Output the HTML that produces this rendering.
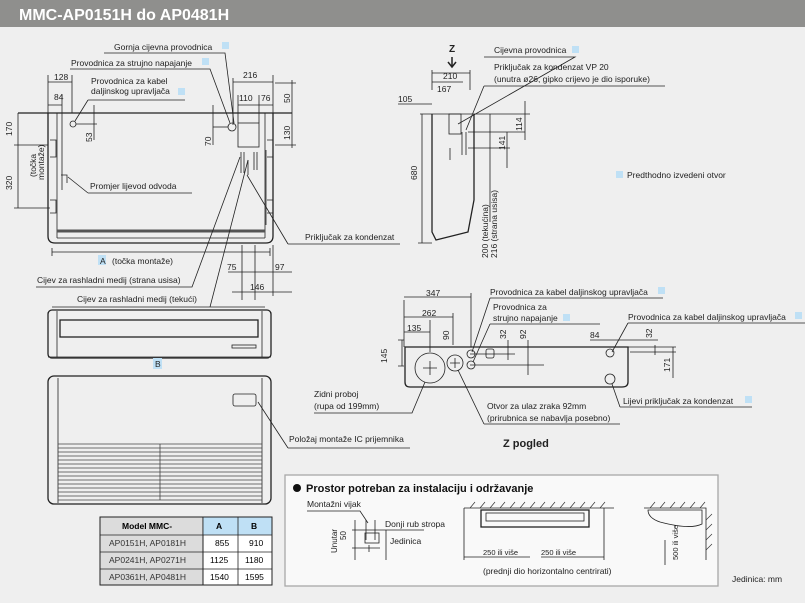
<!DOCTYPE html>
<html><head><meta charset="utf-8"><style>
body{margin:0;background:#efefef;}
svg{display:block;font-family:"Liberation Sans",sans-serif;}
.t{font-size:8.5px;fill:#222;}
.l{stroke:#222;stroke-width:0.8;fill:none;}
.b{stroke:#222;stroke-width:1.3;fill:none;}
.s{fill:#bfe0f5;}
</style></head><body>
<svg width="805" height="603" viewBox="0 0 805 603" xmlns="http://www.w3.org/2000/svg">
<rect x="0" y="0" width="805" height="603" fill="#efefef"/>
<rect x="0" y="0" width="805" height="27" fill="#8f8f8d"/>
<text x="19" y="20" font-size="16" font-weight="bold" fill="#fff">MMC-AP0151H do AP0481H</text>

<!-- TOP-LEFT unit view -->
<g>
<line class="l" x1="275" y1="83" x2="296" y2="83"/>
<line class="b" x1="18" y1="113" x2="292" y2="113"/>
<path class="b" d="M48 113 V236 Q48 243 55 243 H266 Q273 243 273 236 V113"/>
<line class="l" x1="57" y1="113" x2="57" y2="238"/>
<line class="l" x1="265" y1="113" x2="265" y2="238"/>
<line x1="57" y1="231" x2="265" y2="231" stroke="#555" stroke-width="3"/>
<line class="l" x1="57" y1="238" x2="265" y2="238"/>
<path class="l" d="M50 140 h6 v17 h-6 M50 200 h6 v13 h-6 M267 140 h6 v17 h-6 M267 200 h6 v13 h-6 M62 113 V190 M266 150 V225"/>
<circle class="l" cx="73" cy="124" r="3"/>
<circle class="l" cx="232" cy="127" r="4"/>
<rect class="l" x="238" y="123" width="21" height="24"/>
<path class="l" d="M241 152 v21 M244 152 v21 M254 152 v18 M257 152 v18 M248 160 v15"/>
<path class="l" d="M61 175 h6 v8"/>
<!-- dims -->
<path class="l" d="M48 75 V113 M62 95 V113 M72 75 V113 M48 82 H72 M48 105 H62"/>
<text class="t" x="54" y="80">128</text><text class="t" x="54" y="100">84</text>
<path class="l" d="M18 113 V208 M14 145 H48 M14 208 H50"/>
<text class="t" x="12" y="136" transform="rotate(-90 12 136)">170</text>
<text class="t" x="12" y="190" transform="rotate(-90 12 190)">320</text>
<text class="t" x="36" y="177" transform="rotate(-90 36 177)">(točka</text>
<text class="t" x="44" y="180" transform="rotate(-90 44 180)">montaže)</text>
<line class="l" x1="94" y1="105" x2="94" y2="140"/><line class="l" x1="76" y1="124" x2="97" y2="124"/>
<text class="t" x="92" y="142" transform="rotate(-90 92 142)">53</text>
<line class="l" x1="213" y1="105" x2="213" y2="145"/><line class="l" x1="213" y1="127" x2="228" y2="127"/>
<text class="t" x="211" y="146" transform="rotate(-90 211 146)">70</text>
<path class="l" d="M233 78 V125 M273 75 V113 M233 82 H273 M259 95 V123 M238 95 V123 M238 105 H273"/>
<text class="t" x="243" y="78">216</text>
<text class="t" x="239" y="101">110</text><text class="t" x="261" y="101">76</text>
<path class="l" d="M292 80 V148 M275 145 H296"/>
<text class="t" x="290" y="103" transform="rotate(-90 290 103)">50</text>
<text class="t" x="290" y="140" transform="rotate(-90 290 140)">130</text>
<line class="l" x1="52" y1="252" x2="270" y2="252"/>
<path class="l" d="M52 248 V256 M270 248 V256"/>
<rect class="s" x="98" y="255" width="8" height="10"/>
<text class="t" x="100" y="264">A</text><text class="t" x="112" y="264">(točka montaže)</text>
<path class="l" d="M228 272 H292 M242 245 V300 M255 245 V300 M273 245 V296 M232 292 H292"/>
<text class="t" x="227" y="270">75</text><text class="t" x="275" y="270">97</text><text class="t" x="250" y="290">146</text>
<!-- leaders -->
<text class="t" x="114" y="50">Gornja cijevna provodnica</text><rect class="s" x="222" y="42" width="7" height="7"/>
<path class="l" d="M104 53 H225 L234 123"/>
<text class="t" x="71" y="66">Provodnica za strujno napajanje</text><rect class="s" x="202" y="58" width="7" height="7"/>
<path class="l" d="M70 69 H210 L230 123"/>
<text class="t" x="91" y="84">Provodnica za kabel</text>
<text class="t" x="91" y="94">daljinskog upravljača</text><rect class="s" x="178" y="88" width="7" height="7"/>
<path class="l" d="M88 100 H185 M88 100 L75 121"/>
<text class="t" x="90" y="189">Promjer lijevod odvoda</text>
<path class="l" d="M88 193 H192 M88 193 L68 177"/>
<text class="t" x="305" y="240">Priključak za kondenzat</text>
<path class="l" d="M288 244 H400 M288 244 L247 175"/>
<text class="t" x="37" y="283">Cijev za rashladni medij (strana usisa)</text>
<path class="l" d="M36 287 H192 L240 157"/>
<text class="t" x="77" y="302">Cijev za rashladni medij (tekući)</text>
<path class="l" d="M52 307 H265 M210 307 L248 160"/>
</g>

<!-- side view -->
<g>
<line class="l" x1="420" y1="114" x2="530" y2="114"/>
<path class="b" d="M432 114 V232 L436 240 L468 232 L474 200 V114"/>
<rect class="l" x="449" y="114" width="12" height="20"/>
<path class="l" d="M450 148 V160 M462 132 V155 M466 132 V155"/>
<text x="449" y="52" font-size="10" font-weight="bold" fill="#222">Z</text>
<path d="M452 57 V66 M448 62 L452 67 L456 62" stroke="#222" stroke-width="1.5" fill="none"/>
<path class="l" d="M432 73 H470 M432 70 V90 M470 70 V90 M432 82 H463"/>
<text class="t" x="443" y="79">210</text><text class="t" x="437" y="92">167</text>
<path class="l" d="M398 104 H432"/><text class="t" x="398" y="102">105</text>
<path class="l" d="M422 114 V243 M418 243 H432"/>
<text class="t" x="417" y="180" transform="rotate(-90 417 180)">680</text>
<path class="l" d="M490 114 V222 M507 132 V168 M525 101 V140 M468 132 H525 M468 148 H510"/>
<text class="t" x="505" y="150" transform="rotate(-90 505 150)">141</text>
<text class="t" x="522" y="131" transform="rotate(-90 522 131)">114</text>
<text class="t" x="488" y="258" transform="rotate(-90 488 258)">200 (tekućina)</text>
<text class="t" x="497" y="258" transform="rotate(-90 497 258)">216 (strana usisa)</text>
<text class="t" x="494" y="53">Cijevna provodnica</text><rect class="s" x="572" y="46" width="7" height="7"/>
<path class="l" d="M484 57 H575 L458 124"/>
<text class="t" x="494" y="70">Priključak za kondenzat VP 20</text>
<text class="t" x="494" y="82">(unutra  ø26, gipko crijevo je dio isporuke)</text>
<path class="l" d="M484 86 H665 M484 86 L466 130"/>
<rect class="s" x="616" y="171" width="7" height="7"/>
<text class="t" x="627" y="178">Predthodno izvedeni otvor</text>
</g>

<!-- front view -->
<g>
<rect class="b" x="48" y="310" width="223" height="48" rx="4"/>
<line class="l" x1="57" y1="311" x2="57" y2="357"/><line class="l" x1="262" y1="311" x2="262" y2="357"/>
<rect class="b" x="60" y="320" width="198" height="17"/>
<rect class="l" x="232" y="345" width="24" height="3"/>
<line class="l" x1="48" y1="357" x2="271" y2="357"/>
<rect class="s" x="153" y="358" width="9" height="11"/><text class="t" x="155" y="367">B</text>
<rect class="b" x="48" y="376" width="223" height="128" rx="6"/>
<line class="l" x1="58" y1="378" x2="58" y2="503"/><line class="l" x1="262" y1="378" x2="262" y2="503"/>
<rect class="l" x="233" y="394" width="23" height="12" rx="2"/>
<g stroke="#444" stroke-width="0.8">
<line x1="58" y1="444" x2="262" y2="444"/><line x1="58" y1="448" x2="262" y2="448"/><line x1="58" y1="452" x2="262" y2="452"/><line x1="58" y1="456" x2="262" y2="456"/><line x1="58" y1="460" x2="262" y2="460"/><line x1="58" y1="464" x2="262" y2="464"/><line x1="58" y1="468" x2="262" y2="468"/><line x1="58" y1="472" x2="262" y2="472"/><line x1="58" y1="476" x2="262" y2="476"/><line x1="58" y1="480" x2="262" y2="480"/><line x1="58" y1="484" x2="262" y2="484"/><line x1="58" y1="488" x2="262" y2="488"/><line x1="58" y1="492" x2="262" y2="492"/><line x1="58" y1="496" x2="262" y2="496"/><line x1="58" y1="500" x2="262" y2="500"/>
<line x1="160" y1="444" x2="160" y2="500"/></g>
<text class="t" x="289" y="442">Položaj montaže IC prijemnika</text>
<path class="l" d="M288 448 H410 M288 448 L258 402"/>
</g>

<!-- table -->
<g font-size="8.5">
<rect x="100" y="517" width="103" height="68" fill="#dcdcdc" stroke="#222"/>
<rect x="203" y="517" width="69" height="68" fill="#fff" stroke="#222"/>
<rect x="203" y="517" width="69" height="18" fill="#bfe0f5"/>
<path class="l" d="M100 535 H272 M100 552 H272 M100 569 H272 M203 517 V585 M238 517 V585"/>
<rect x="100" y="517" width="172" height="68" fill="none" stroke="#222"/>
<text x="122" y="529" font-weight="bold">Model   MMC-</text>
<text x="216" y="529" font-weight="bold">A</text><text x="251" y="529" font-weight="bold">B</text>
<text x="109" y="546" fill="#333">AP0151H, AP0181H</text><text x="215" y="546">855</text><text x="249" y="546">910</text>
<text x="109" y="563" fill="#333">AP0241H, AP0271H</text><text x="210" y="563">1125</text><text x="245" y="563">1180</text>
<text x="109" y="580" fill="#333">AP0361H, AP0481H</text><text x="210" y="580">1540</text><text x="245" y="580">1595</text>
</g>

<!-- Z view -->
<g>
<path class="b" d="M405 347 H628 V382 Q628 387 622 387 H410 Q405 387 405 382 Z"/>
<circle class="l" cx="430" cy="368" r="15"/><path class="l" d="M423 368 h14 M430 361 v14"/>
<circle class="l" cx="455" cy="363" r="8"/><path class="l" d="M450 363 h10 M455 358 v10"/>
<circle class="l" cx="471" cy="354" r="4"/><circle class="l" cx="471" cy="365" r="4"/>
<rect class="l" x="486" y="349" width="8" height="9" rx="2"/>
<circle class="l" cx="610" cy="353" r="4"/><circle class="l" cx="610" cy="379" r="5"/>
<path class="l" d="M404 297 H471 M404 317 H453 M404 332 H430 M404 300 V347 M471 293 V347 M453 313 V345 M430 320 V352"/>
<text class="t" x="426" y="296">347</text><text class="t" x="422" y="316">262</text><text class="t" x="407" y="331">135</text>
<text class="t" x="449" y="340" transform="rotate(-90 449 340)">90</text>
<path class="l" d="M398 340 H404 M398 366 H404 M402 340 V366"/>
<text class="t" x="387" y="363" transform="rotate(-90 387 363)">145</text>
<path class="l" d="M470 354 H515 M470 365 H544 M508 340 V360 M528 340 V375"/>
<text class="t" x="506" y="339" transform="rotate(-90 506 339)">32</text>
<text class="t" x="526" y="339" transform="rotate(-90 526 339)">92</text>
<path class="l" d="M590 340 H640 M655 345 V355 M610 340 H658 M630 352 H676 M628 347 H676 M673 347 V378"/>
<text class="t" x="590" y="338">84</text>
<text class="t" x="652" y="338" transform="rotate(-90 652 338)">32</text>
<text class="t" x="670" y="372" transform="rotate(-90 670 372)">171</text>
<text class="t" x="490" y="295">Provodnica za kabel daljinskog upravljača</text><rect class="s" x="658" y="287" width="7" height="7"/>
<path class="l" d="M490 298 H663 M490 298 L472 352"/>
<text class="t" x="493" y="310">Provodnica za</text>
<text class="t" x="493" y="321">strujno napajanje</text><rect class="s" x="563" y="314" width="7" height="7"/>
<path class="l" d="M490 324 H600 M490 324 L473 362"/>
<text class="t" x="628" y="320">Provodnica za kabel daljinskog upravljača</text><rect class="s" x="795" y="312" width="7" height="7"/>
<path class="l" d="M628 323 H805 M628 323 L612 352"/>
<text class="t" x="314" y="397">Zidni proboj</text><text class="t" x="314" y="409">(rupa od 199mm)</text>
<path class="l" d="M314 413 H412 L425 382"/>
<text class="t" x="487" y="409">Otvor za ulaz zraka 92mm</text><text class="t" x="487" y="421">(prirubnica se nabavlja posebno)</text>
<path class="l" d="M484 424 H620 M484 424 L458 370"/>
<text class="t" x="623" y="404">Lijevi priključak za kondenzat</text><rect class="s" x="745" y="396" width="7" height="7"/>
<path class="l" d="M620 407 H752 M620 407 L612 384"/>
<text x="503" y="447" font-size="11" font-weight="bold" fill="#222">Z pogled</text>
</g>

<!-- Install box -->
<g>
<rect x="285" y="475" width="433" height="111" fill="#f9f9f9" stroke="#a8a8a8" stroke-width="1.3"/>
<circle cx="297" cy="488" r="4" fill="#111"/>
<text x="306" y="492" font-size="11" font-weight="bold" fill="#111">Prostor potreban za instalaciju i održavanje</text>
<text class="t" x="307" y="507">Montažni vijak</text>
<path class="l" d="M307 511 H360 L368 523"/>
<path class="l" d="M352 530 H424 M352 548 H380 M355 520 V560 M366 520 V540 M375 520 V540 M386 530 V560 M369 545 V552"/>
<rect class="l" x="365" y="533" width="14" height="10"/>
<text class="t" x="385" y="527">Donji rub stropa</text>
<text class="t" x="390" y="544">Jedinica</text>
<text x="337" y="553" font-size="8" transform="rotate(-90 337 553)" fill="#222">Unutar</text>
<text x="346" y="540" font-size="8" transform="rotate(-90 346 540)" fill="#222">50</text>
<path class="l" d="M464 508 H614 M464 508 V560 M604 508 V560 M464 557 H530 M541 557 H604"/>
<path stroke="#333" stroke-width="0.7" d="M470 508 l5 -6 M480 508 l5 -6 M490 508 l5 -6 M500 508 l5 -6 M510 508 l5 -6 M520 508 l5 -6 M530 508 l5 -6 M540 508 l5 -6 M550 508 l5 -6 M560 508 l5 -6 M570 508 l5 -6 M580 508 l5 -6 M590 508 l5 -6 M600 508 l5 -6"/>
<rect class="b" x="481" y="510" width="108" height="17"/>
<rect class="l" x="486" y="513" width="98" height="8"/>
<text x="483" y="555" font-size="7.5" fill="#222">250 ili više</text>
<text x="541" y="555" font-size="7.5" fill="#222">250 ili više</text>
<text class="t" x="483" y="574">(prednji dio horizontalno centrirati)</text>
<path class="l" d="M644 508 H706 V560 M665 540 V565"/>
<path stroke="#333" stroke-width="0.7" d="M650 508 l5 -6 M660 508 l5 -6 M670 508 l5 -6 M680 508 l5 -6 M690 508 l5 -6 M700 508 l5 -6 M706 520 l6 -6 M706 530 l6 -6 M706 540 l6 -6 M706 550 l6 -6"/>
<path class="l" d="M648 510 H702 V524 Q690 530 660 522 Q648 518 648 510 Z"/>
<text x="678" y="560" font-size="7.5" fill="#222" transform="rotate(-90 678 560)">500 ili više</text>
<text class="t" x="732" y="582">Jedinica: mm</text>
</g>
</svg>
</body></html>
